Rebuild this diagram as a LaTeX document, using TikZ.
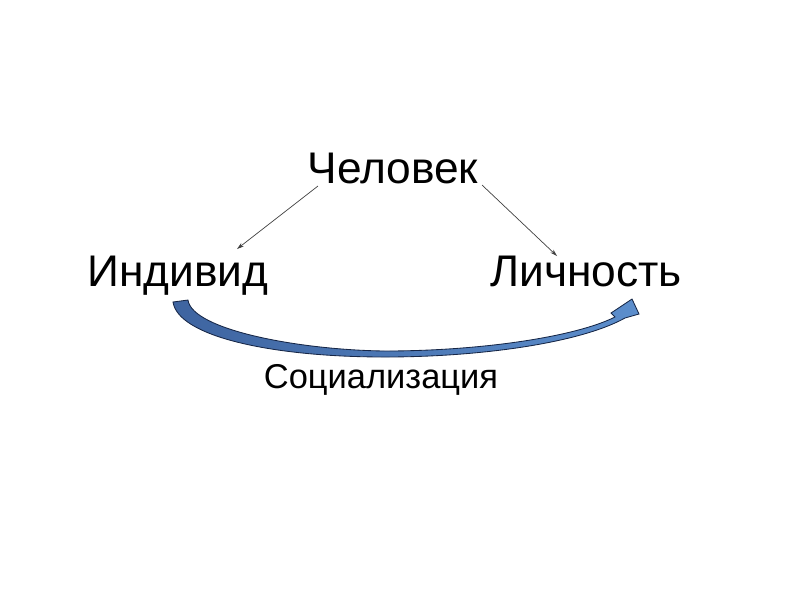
\documentclass[tikz,border=0pt]{standalone}
\usepackage{fontspec}
\setmainfont{Liberation Sans}
\usetikzlibrary{arrows.meta,positioning}
\definecolor{arrowdark}{RGB}{62,100,160}
\definecolor{arrowlight}{RGB}{92,142,204}
\definecolor{arrowline}{RGB}{22,38,70}

\begin{document}
\begin{tikzpicture}[x=0.025cm, y=-0.025cm, >={Stealth[length=5pt,width=3pt]}]
        \tikzset{word/.style={inner sep=0pt, anchor=base, font=\fontsize{31.5}{36}\selectfont},
                 caption/.style={inner sep=0pt, anchor=base, font=\fontsize{24.5}{28}\selectfont},
                 thinarrow/.style={->, draw=black!75, line width=0.5pt},
                 bigarrow/.style={draw=arrowline, line width=0.6pt, left color=arrowdark, right color=arrowlight}}
        \useasboundingbox (0,0) rectangle (800,600);
        \node[word] (chel) at (393,183) {Человек};
        \node[word] (ind) at (178,286) {Индивид};
        \node[word] (lich) at (586,286) {Личность};
        \node[caption] (soc) at (381,388) {Социализация};
        \coordinate (chel-l) at (318,186);
        \coordinate (chel-r) at (482,185);
        \coordinate (ind-t) at (237,249);
        \coordinate (lich-t) at (557,256);
        \draw[thinarrow] (chel-l) -- (ind-t);
        \draw[thinarrow] (chel-r) -- (lich-t);
        % curved arrow from ind to lich
        \draw[bigarrow]
            (173,302) -- (188,300)
            .. controls (192,330) and (300,350) .. (385,351)
            .. controls (480,351) and (575,337) .. (615,317)
            -- (611,313) -- (632,299) -- (639,314) -- (625,318)
            .. controls (580,343) and (480,357) .. (385,357)
            .. controls (270,357) and (178,336) .. (173,302) -- cycle;
\end{tikzpicture}
\end{document}
